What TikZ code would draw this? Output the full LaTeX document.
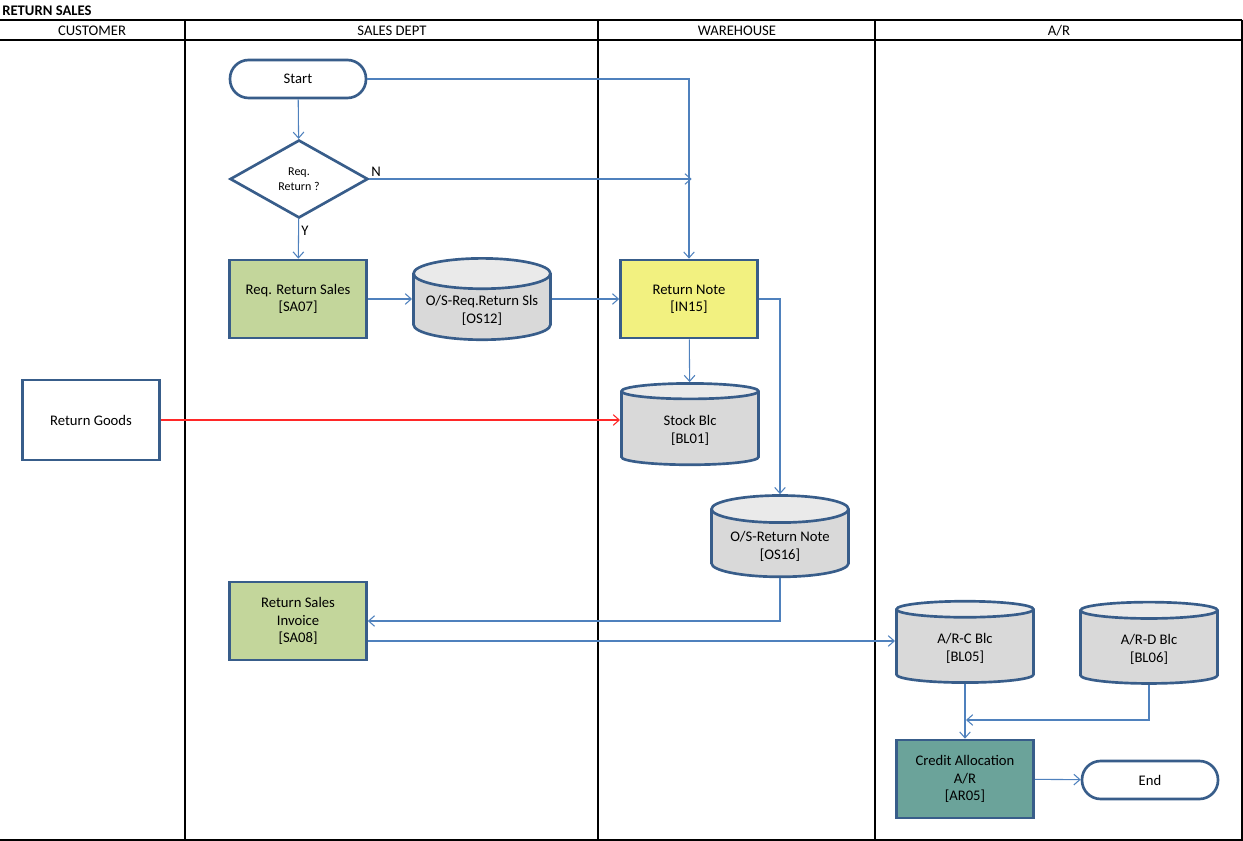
\documentclass[tikz,border=0pt]{standalone}
\usepackage{fontspec}
\setmainfont{Carlito}
\usetikzlibrary{shapes.geometric,arrows.meta}

\definecolor{edgeblue}{RGB}{56,93,138}
\definecolor{flowblue}{RGB}{79,129,189}
\definecolor{salesgreen}{RGB}{195,214,155}
\definecolor{noteyellow}{RGB}{242,241,128}
\definecolor{storegrey}{RGB}{217,217,217}
\definecolor{storetop}{RGB}{234,234,234}
\definecolor{arteal}{RGB}{107,163,154}
\definecolor{goodsred}{RGB}{255,40,40}

\tikzset{
  box/.style={rectangle, draw=edgeblue, line width=2pt, align=center,
    minimum width=102.75pt, minimum height=58.5pt, inner sep=0pt},
  terminal/.style={rectangle, draw=edgeblue, line width=2pt, rounded corners=14pt,
    minimum width=102pt, minimum height=28.5pt, fill=white},
  store/.style={cylinder, shape border rotate=90, draw=edgeblue, line width=2pt,
    align=center, aspect=0.25, minimum width=102.75pt, minimum height=61pt,
    font=\fontsize{11}{13.5}\selectfont,
    cylinder uses custom fill, cylinder body fill=storegrey, cylinder end fill=storetop},
  flow/.style={draw=flowblue, line width=0.8pt, ->},
  lane/.style={line width=0.9pt},
}

\begin{document}
\begin{tikzpicture}[x=0.75pt, y=-0.75pt, >={Straight Barb[length=4.5pt,width=8pt]},
    font=\fontsize{11}{13}\selectfont]
    \useasboundingbox (0,0) rectangle (1243,841);

    % Lanes
    \draw[lane] (0,20) -- (1242,20) (0,40) -- (1242,40) (0,840) -- (1243,840);
    \foreach \x in {185,598,875,1242}
        \draw[lane] (\x,20) -- (\x,840);
    \node[anchor=west, font=\fontsize{11}{13}\selectfont\bfseries, inner sep=0pt] (title) at (2,11) {RETURN SALES};
    \node (customer) at (92,31) {CUSTOMER};
    \node (salesdept) at (392,31) {SALES DEPT};
    \node (warehouse) at (737,31) {WAREHOUSE};
    \node (ar) at (1059,31) {A/R};

    % Nodes
    \node[terminal] (start) at (298,79) {Start};
    \node[diamond, draw=edgeblue, line width=2pt, align=center, inner sep=0pt,
        minimum width=103.5pt, minimum height=58.5pt, font=\fontsize{9}{11}\selectfont]
        (decide) at (299,179) {Req.\\Return ?};
    \node[box, fill=salesgreen] (reqsales) at (298,299) {Req. Return Sales\\{}[SA07]};
    \node[store] (osreq) at (482,310) {O/S-Req.Return Sls\\{}[OS12]};
    \node[box, fill=noteyellow] (note) at (689,299) {Return Note\\{}[IN15]};
    \node[store] (stock) at (690,430) {Stock Blc\\{}[BL01]};
    \node[store] (osnote) at (780,546) {O/S-Return Note\\{}[OS16]};
    \node[box, fill=white, minimum height=60pt] (goods) at (91,420) {Return Goods};
    \node[box, fill=salesgreen] (invoice) at (298,621) {Return Sales\\Invoice\\{}[SA08]};
    \node[store] (arcblc) at (965,648) {A/R-C Blc\\{}[BL05]};
    \node[store] (ardblc) at (1149,649) {A/R-D Blc\\{}[BL06]};
    \node[box, fill=arteal] (credit) at (965,779) {Credit Allocation\\A/R\\{}[AR05]};
    \node[terminal] (endnode) at (1150,780) {End};
    \coordinate (join) at (966,720);
    \coordinate (invout) at ([yshift=-15pt]invoice.east);

    % Arrows
    \draw[flow] (start) -- (decide);
    \draw[flow] (start.east) -| (note.north);
    \draw[flow] (decide.east) -- ([xshift=2pt]decide.east -| note.north);
    \node (nlabel) at (376,172) {N};
    \draw[flow] (decide) -- (reqsales);
    \node (ylabel) at (305,231) {Y};
    \draw[flow] (reqsales) -- ([xshift=-52.5pt]reqsales -| osreq);
    \draw[flow] ([xshift=52.5pt]osreq |- note) -- (note);
    \draw[flow] (note) -- (stock);
    \draw[flow] (note.east) -| (osnote);
    \draw[flow] (osnote) |- (invoice.east);
    \draw[flow] (invout) -- ([xshift=-52.5pt]invout -| arcblc);
    \draw[flow, draw=goodsred] (goods) -- ([xshift=-52.5pt]goods -| stock);
    \draw[flow] (arcblc) -- (credit);
    \draw[flow] (ardblc) |- (join);
    \draw[flow] (credit) -- (endnode);

\end{tikzpicture}
\end{document}
